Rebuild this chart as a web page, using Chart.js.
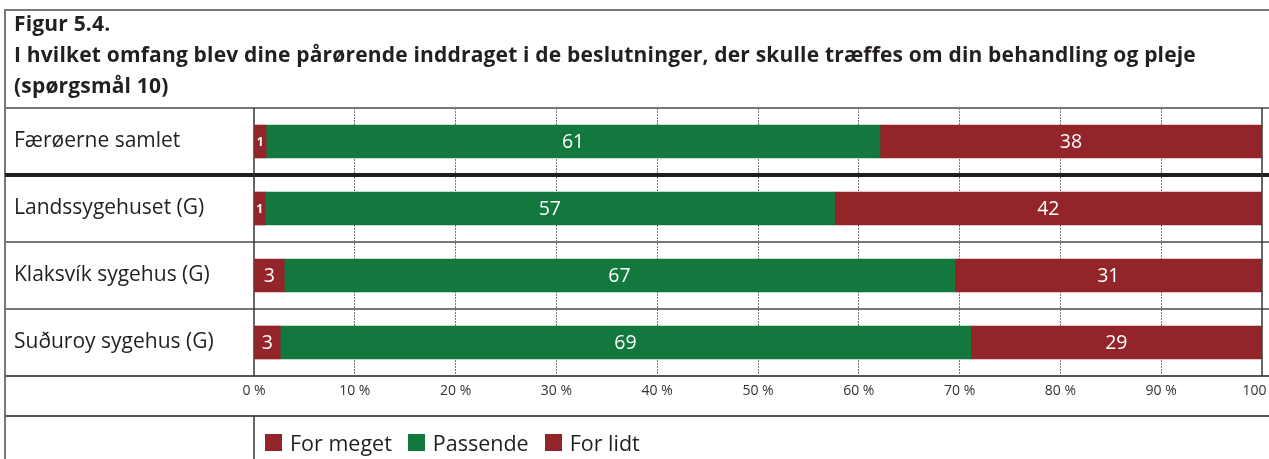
<!DOCTYPE html>
<html><head><meta charset="utf-8">
<script src="https://cdn.jsdelivr.net/npm/chart.js@4/dist/chart.umd.min.js"></script>
<style>
html,body{margin:0;padding:0;background:#fff;}
#wrap{position:relative;width:1269px;height:459px;overflow:hidden;background:#fff;}
canvas{position:absolute;left:0;top:0;}
#title{position:absolute;left:14px;top:8px;font-family:'Open Sans',sans-serif;font-weight:bold;font-size:21px;line-height:31px;color:#231f20;white-space:nowrap;}
#title span{display:inline-block;}
#legend{position:absolute;left:265px;top:428px;display:flex;align-items:center;font-family:'Open Sans',sans-serif;font-size:21.5px;color:#231f20;white-space:nowrap;}
#legend .item{display:flex;align-items:center;margin-right:16px;}
#legend .box{width:17px;height:17px;margin-right:8px;}
</style></head>
<body>
<div id="wrap">
<canvas id="c" width="1269" height="459"></canvas>
<div id="title"><span>Figur 5.4.</span><br><span id="t2">I hvilket omfang blev dine pårørende inddraget i de beslutninger, der skulle træffes om din behandling og pleje</span><br><span>(spørgsmål 10)</span></div>
<div id="legend"></div>
</div>
<script>
const categories = ["Færøerne samlet", "Landssygehuset (G)", "Klaksvík sygehus (G)", "Suðuroy sygehus (G)"];
const seriesNames = ["For meget", "Passende", "For lidt"];
const forMeget = [1.2, 1.1, 3.0, 2.6];
const passende = [60.9, 56.5, 66.5, 68.5];
const forLidt = [37.9, 42.4, 30.5, 28.9];
const xTicks = [0, 10, 20, 30, 40, 50, 60, 70, 80, 90, 100];

const RED = '#93242a', GREEN = '#12783e';
const colors = [RED, GREEN, RED];
const seriesData = [forMeget, passende, forLidt];
const TEXT = '#231f20';
const FONT = 'Open Sans';

// fit title line 2 to reference width
(function () {
  const t2 = document.getElementById('t2');
  const w = t2.getBoundingClientRect().width;
  const n = t2.textContent.length;
  const ls = (1182 - w) / n;
  document.getElementById('title').style.letterSpacing = ls.toFixed(3) + 'px';
})();

const framePlugin = {
  id: 'frame',
  beforeDatasetsDraw(chart) {
    const ctx = chart.ctx, ca = chart.chartArea, W = chart.width, H = chart.height;
    const x = chart.scales.x, y = chart.scales.y;
    ctx.save();
    function hline(yy, lw, col, x0) {
      ctx.beginPath(); ctx.lineWidth = lw; ctx.strokeStyle = col;
      ctx.moveTo(x0 === undefined ? 5 : x0, yy); ctx.lineTo(W, yy); ctx.stroke();
    }
    function vline(xx, y0, y1, lw, col) {
      ctx.beginPath(); ctx.lineWidth = lw; ctx.strokeStyle = col;
      ctx.moveTo(xx, y0); ctx.lineTo(xx, y1); ctx.stroke();
    }
    hline(10, 2, '#777', 4);
    vline(5, 9, H, 2, '#777');
    hline(ca.top, 2, '#777');
    for (let i = 0; i < categories.length - 1; i++) {
      const yy = (y.getPixelForValue(i) + y.getPixelForValue(i + 1)) / 2;
      if (i === 0) hline(yy, 4, '#231f20'); else hline(yy, 2, '#777');
    }
    hline(ca.bottom, 2, '#555');
    const legTop = ca.bottom + 40;
    hline(legTop, 2, '#555');
    const x0 = x.getPixelForValue(0), x100 = x.getPixelForValue(100);
    vline(x0, ca.top, ca.bottom, 1.5, '#333');
    vline(x0, legTop, H, 1.5, '#333');
    vline(x100, ca.top, ca.bottom, 1.5, '#333');
    ctx.restore();
  }
};

const labelPlugin = {
  id: 'vlabels',
  afterDatasetsDraw(chart) {
    const ctx = chart.ctx;
    ctx.save();
    ctx.fillStyle = '#fff'; ctx.textAlign = 'center'; ctx.textBaseline = 'middle';
    chart.data.datasets.forEach((ds, di) => {
      chart.getDatasetMeta(di).data.forEach((bar, i) => {
        const r = Math.round(ds.data[i]);
        const small = r < 2;
        ctx.font = small ? 'bold 12px "' + FONT + '"' : '19.5px "' + FONT + '"';
        ctx.fillText(String(r), (bar.x + bar.base) / 2, bar.y + 1);
      });
    });
    ctx.restore();
  }
};

new Chart(document.getElementById('c'), {
  type: 'bar',
  data: {
    labels: categories,
    datasets: seriesNames.map((n, i) => ({
      label: n, data: seriesData[i], backgroundColor: colors[i], borderWidth: 0, barThickness: 33
    }))
  },
  options: {
    indexAxis: 'y', responsive: false, animation: false,
    layout: { padding: { left: 14, right: 7, top: 108, bottom: 0 } },
    plugins: { legend: { display: false }, tooltip: { enabled: false } },
    scales: {
      x: {
        stacked: true, min: 0, max: 100,
        afterBuildTicks: s => { s.ticks = xTicks.map(v => ({ value: v })); },
        ticks: { callback: v => v + ' %', font: { family: FONT, size: 14 }, color: '#333', padding: 7, maxRotation: 0, autoSkip: false },
        grid: { color: c => (c.tick && (c.tick.value === 0 || c.tick.value === 100)) ? 'rgba(0,0,0,0)' : '#777', lineWidth: 1, drawTicks: false },
        border: { display: false, dash: [2, 1] },
        afterFit: s => { s.height = 83; s.paddingRight = 0; s.paddingLeft = 0; }
      },
      y: {
        stacked: true,
        ticks: { font: { family: FONT, size: 21 }, color: TEXT, crossAlign: 'far', padding: 0 },
        grid: { display: false }, border: { display: false },
        afterFit: s => { s.width = 240; }
      }
    }
  },
  plugins: [framePlugin, labelPlugin]
});

const leg = document.getElementById('legend');
seriesNames.forEach((n, i) => {
  const it = document.createElement('div'); it.className = 'item';
  it.innerHTML = '<span class="box" style="background:' + colors[i] + '"></span><span>' + n + '</span>';
  leg.appendChild(it);
});
</script>
</body></html>
